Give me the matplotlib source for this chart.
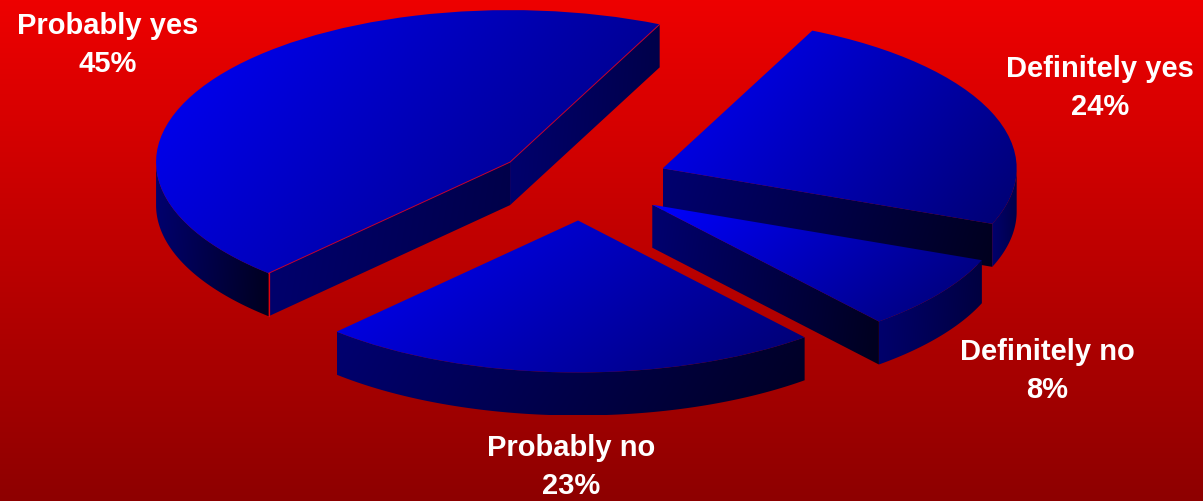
import numpy as np
import matplotlib
matplotlib.use("Agg")
import matplotlib.pyplot as plt
from matplotlib.colors import LinearSegmentedColormap
from matplotlib.patches import Polygon

labels = ["Definitely yes", "Definitely no", "Probably no", "Probably yes"]
values = [24, 8, 23, 45]
explode = [0.25, 0.25, 0.25, 0.24]
label_xy = [(1100, 88), (1047, 371), (571, 467), (108, 45)]  # pixels

W, H = 1203, 501
CX, CY = 580.5, 182.5   # pie centre, pixels
RX, RY = 354.0, 152.0   # pixels per pie radius
DEPTH = 43.0 / RY

# how dark the walls get on their right end, per slice (blue channel)
WALL_DARK = {"Definitely yes": 30, "Definitely no": 30, "Probably no": 35, "Probably yes": 70}
ARC_DARK = {"Definitely yes": 70, "Definitely no": 60, "Probably no": 35, "Probably yes": 30}

plt.rcParams["font.family"] = ["Liberation Sans", "DejaVu Sans"]

fig = plt.figure(figsize=(W / 100, H / 100), dpi=100)
ax = fig.add_axes([0, 0, 1, 1])

wedges, _ = ax.pie(values, explode=explode, startangle=65, counterclock=False,
                   radius=1, wedgeprops=dict(facecolor="none", edgecolor="none"))
xlim = (-CX / RX, (W - CX) / RX)
ylim = ((CY - H) / RY, CY / RY)


def gradient(patch, start, end, z, tilt=0.3):
    """fill patch with a diagonal gradient, top left to bottom right"""
    verts = patch.get_path().vertices
    x0, y0 = verts.min(axis=0)
    x1, y1 = verts.max(axis=0)
    u, v = np.meshgrid(np.linspace(0, 1, 256), np.linspace(0, 1, 256))
    cmap = LinearSegmentedColormap.from_list("g", [start, end])
    im = ax.imshow((1 - tilt) * u + tilt * v, cmap=cmap, vmin=0, vmax=1, aspect="auto",
                   extent=(x0, x1, y0, y1), origin="upper", zorder=z,
                   interpolation="bilinear")
    im.set_clip_path(patch)


def side(pts, z, dark):
    pts = np.asarray(pts)
    low = pts - [0, DEPTH]
    poly = Polygon(np.vstack([pts, low[::-1]]), closed=True, fc="none", ec="none")
    ax.add_patch(poly)
    gradient(poly, (0, 0, 112 / 255), (0, 0, dark / 255), z, tilt=0.1)


# background
bg = LinearSegmentedColormap.from_list("bg", [(238 / 255, 0, 0), (142 / 255, 0, 0)])
ax.imshow(np.linspace(0, 1, 256)[:, None], cmap=bg, aspect="auto",
          extent=(xlim[0], xlim[1], ylim[0], ylim[1]), origin="upper", zorder=0)

# back to front
order = sorted(range(len(wedges)), key=lambda i: -wedges[i].center[1])
for n, i in enumerate(order):
    w = wedges[i]
    c = np.array(w.center)
    z = 2 + n * 3
    t1, t2 = w.theta1, w.theta2

    def rim(deg):
        return c + w.r * np.array([np.cos(np.radians(deg)), np.sin(np.radians(deg))])

    # radial walls facing the viewer
    if np.sin(np.radians(t1 - 90)) < 0:
        side([c, rim(t1)], z, WALL_DARK[labels[i]])
    if np.sin(np.radians(t2 + 90)) < 0:
        side([c, rim(t2)], z, WALL_DARK[labels[i]])
    # outer wall
    th = np.radians(np.linspace(t1, t2, 400))
    th = th[np.sin(th) < 0]
    if len(th) > 1:
        side(c + w.r * np.column_stack([np.cos(th), np.sin(th)]), z + 1, ARC_DARK[labels[i]])

    w.set_zorder(z + 2)
    gradient(w, (0, 0, 1), (0, 0, 110 / 255), z + 2)

    # thin red seam along the front of the big slice
    if labels[i] == "Probably yes":
        seam = np.array([rim(t1), c, rim(t2)])
        ax.plot(seam[:, 0], seam[:, 1], color="#c00030", lw=0.7, zorder=z + 3)
        ax.plot([rim(t2)[0]] * 2, [rim(t2)[1], rim(t2)[1] - DEPTH], color="#e00010",
                lw=0.9, zorder=z + 3)

for lab, val, (px, py) in zip(labels, values, label_xy):
    ax.text(px / W, 1 - py / H, f"{lab}\n{val}%", transform=ax.transAxes, color="white",
            fontsize=21, fontweight="bold", ha="center", va="center", linespacing=1.45,
            zorder=30)

ax.set_aspect("auto")
ax.set_xlim(xlim)
ax.set_ylim(ylim)
ax.axis("off")
fig.savefig("out.png", dpi=100)
